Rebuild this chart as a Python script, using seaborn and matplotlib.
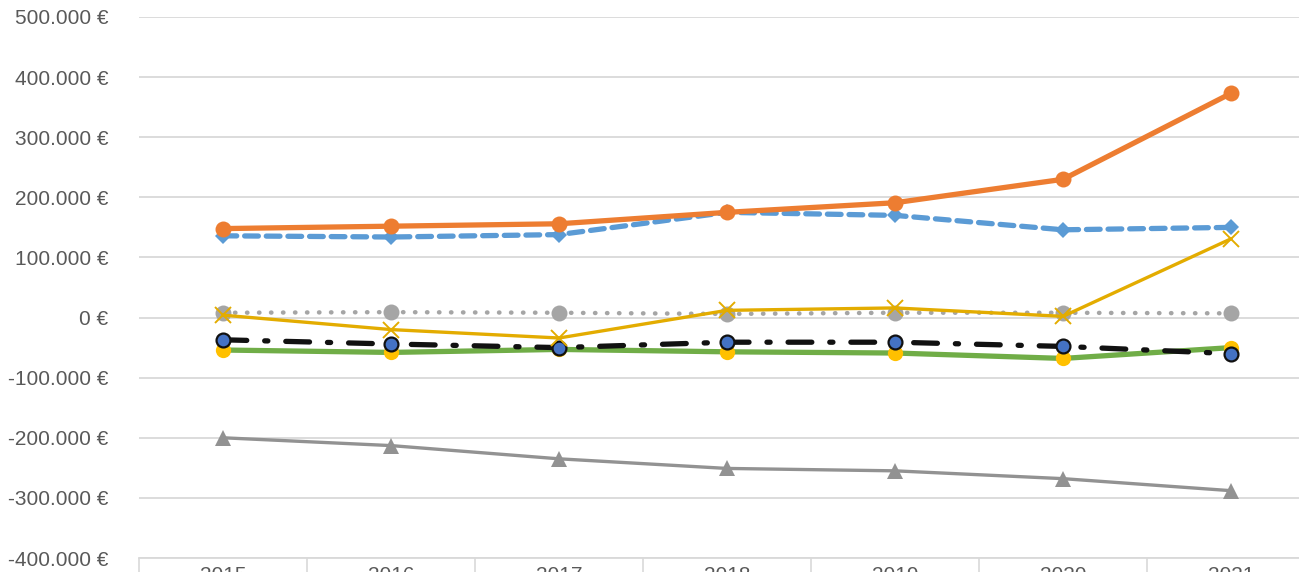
#Import the libraries
import pandas as pd
import numpy as np
from matplotlib import pyplot as plt
from matplotlib.ticker import FuncFormatter, FixedLocator
import seaborn as sb

# data (values in €)
years = [2015, 2016, 2017, 2018, 2019, 2020, 2021]
orange_vals = [148000, 152000, 156000, 175000, 191000, 230000, 373000]
blue_vals = [136000, 134000, 138000, 175000, 170000, 146000, 150000]
gold_vals = [4000, -20000, -34000, 12000, 16000, 2000, 131000]
dotted_vals = [8000, 9000, 8000, 6000, 8000, 8000, 7000]
dashdot_vals = [-37000, -44000, -50000, -41000, -41000, -48000, -60000]
green_vals = [-54000, -58000, -53000, -57000, -59000, -68000, -50000]
triangle_vals = [-200000, -213000, -235000, -251000, -255000, -268000, -288000]

sb.set_theme(style='white')
plt.rcParams['font.family'] = ['Liberation Sans', 'DejaVu Sans']

fig = plt.figure(figsize=(12.99, 5.72), dpi=100)
ax = fig.add_axes([139 / 1299, 14 / 572, 1176 / 1299, 541 / 572])

# draw the series, lowest first
sb.lineplot(x=years, y=triangle_vals, ax=ax, color='#929292', linewidth=2.4,
            marker='^', markersize=11, markeredgewidth=0, zorder=3)
sb.lineplot(x=years, y=green_vals, ax=ax, color='#70AD47', linewidth=3.8,
            marker='o', markersize=11, markerfacecolor='#FFC000',
            markeredgewidth=0, zorder=4)
sb.lineplot(x=years, y=dashdot_vals, ax=ax, color='#111111', linewidth=3.8,
            dashes=False, zorder=5)
ax.lines[-1].set_dashes([4.5, 3.4, 0.6, 3.4])
ax.lines[-1].set_dash_capstyle('round')
sb.lineplot(x=years, y=dashdot_vals, ax=ax, linewidth=0, marker='o',
            markersize=10, markerfacecolor='#4472C4', markeredgecolor='#111111',
            markeredgewidth=1.6, zorder=6)
sb.lineplot(x=years, y=dotted_vals, ax=ax, color='#A5A5A5', linewidth=3.2,
            marker='o', markersize=11.5, markeredgewidth=0, zorder=6)
ax.lines[-1].set_linestyle((0, (0.1, 2.6)))
ax.lines[-1].set_dash_capstyle('round')
sb.lineplot(x=years, y=gold_vals, ax=ax, color='#E3AC00', linewidth=2.4,
            marker='x', markersize=12, markeredgewidth=1.4,
            markeredgecolor='#E3AC00', zorder=7)
sb.lineplot(x=years, y=blue_vals, ax=ax, color='#5B9BD5', linewidth=3.8,
            marker='D', markersize=8, markeredgewidth=0, zorder=8)
ax.lines[-1].set_dashes([2.6, 1.5])
ax.lines[-1].set_dash_capstyle('round')
sb.lineplot(x=years, y=orange_vals, ax=ax, color='#ED7D31', linewidth=3.8,
            marker='o', markersize=11.5, markeredgewidth=0, zorder=9)

# axes
ax.set_xlim(2014.5, 2021.5)
ax.set_ylim(-400000, 500000)
ax.yaxis.set_major_locator(FixedLocator(np.arange(-400000, 500001, 100000)))
ax.yaxis.set_major_formatter(FuncFormatter(lambda v, p: f'{v:,.0f} €'.replace(',', '.')))
ax.grid(axis='y', color='#D9D9D9', linewidth=1.3)
ax.set_axisbelow(True)

ax.xaxis.set_major_locator(FixedLocator(np.arange(2014.5, 2021.6, 1)))
ax.xaxis.set_major_formatter(FuncFormatter(lambda v, p: ''))
ax.xaxis.set_minor_locator(FixedLocator(years))
ax.xaxis.set_minor_formatter(FuncFormatter(lambda v, p: str(int(round(v)))))
ax.tick_params(axis='x', which='major', length=16, width=1.2, color='#D9D9D9', direction='out', bottom=True)
ax.tick_params(axis='x', which='minor', length=0, pad=6, labelsize=15, labelcolor='#595959')
ax.tick_params(axis='y', length=0, pad=22, labelsize=15, labelcolor='#595959')

for s in ['top', 'right', 'left']:
    ax.spines[s].set_visible(False)
ax.spines['bottom'].set_color('#D9D9D9')
ax.spines['bottom'].set_linewidth(1.3)

ax.set_xlabel('')
ax.set_ylabel('')
if ax.get_legend() is not None:
    ax.get_legend().remove()

fig.savefig('out.png', dpi=100)
